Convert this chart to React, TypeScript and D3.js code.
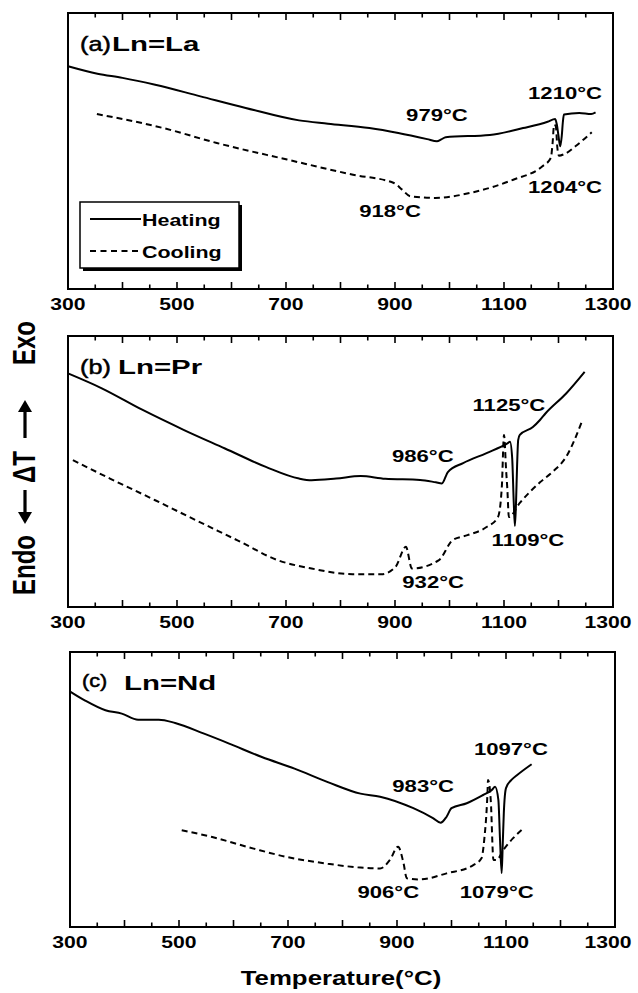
import React, { useEffect, useRef } from 'react';
import * as d3 from 'd3';

// x axis
const tickTemps = [300, 500, 700, 900, 1100, 1300];
const xTitle = 'Temperature(°C)';
// y title pieces, read from bottom to top
const yWords = ['Endo', '\u0394T', 'Exo'];

const panelTags = ['(a)', '(b)', '(c)'];
const panelNames = ['Ln=La', 'Ln=Pr', 'Ln=Nd'];
const legendNames = ['Heating', 'Cooling'];

// DTA traces, [temperature °C, signal in % of panel height]
const heatingLa = [
  [300, 80.7], [354, 78.0], [400, 76.5], [460, 74.0], [543, 69.8], [626, 65.6], [724, 61.1],
  [777, 59.9], [853, 58.3], [906, 56.5], [959, 54.3], [977, 53.5], [985, 54.2], [993, 55.0],
  [1074, 55.8], [1135, 58.3], [1180, 60.6], [1194, 61.6], [1197, 59.5], [1200, 55.5],
  [1203, 51.7], [1206, 55.5], [1208, 60.5], [1210, 63.2], [1238, 63.8], [1260, 63.4], [1268, 64.0],
];
const coolingLa = [
  [353, 63.4], [475, 58.3], [573, 52.9], [702, 46.9], [823, 41.4], [898, 38.4], [913, 36.0],
  [928, 33.6], [974, 33.0], [1042, 35.0], [1117, 39.6], [1170, 44.4], [1186, 47.5],
  [1189, 52.5], [1192, 59.5], [1195, 59.0], [1198, 51.0], [1201, 48.3], [1210, 48.8],
  [1231, 51.7], [1261, 56.8],
];

const heatingPr = [
  [300, 86.2], [362, 80.7], [437, 72.7], [513, 65.3], [588, 58.5], [663, 51.7], [724, 47.4],
  [747, 46.8], [792, 47.4], [837, 48.3], [882, 47.3], [946, 46.9], [975, 46.0], [986, 45.6],
  [997, 49.8], [1025, 53.1], [1068, 56.8], [1107, 60.5], [1111, 61.0], [1115, 55.0],
  [1118, 38.0], [1120, 29.9], [1122, 38.0], [1124, 52.0], [1126, 61.6], [1129, 63.5],
  [1153, 66.4], [1166, 69.0], [1176, 71.4], [1214, 78.8], [1248, 86.8],
];
const coolingPr = [
  [309, 54.2], [377, 47.4], [460, 39.4], [535, 32.0], [611, 24.6], [686, 17.2], [747, 14.2],
  [822, 12.1], [875, 12.1], [901, 14.8], [920, 22.2], [931, 14.2], [980, 17.2], [1006, 24.7],
  [1033, 26.5], [1068, 29.5], [1089, 33.2], [1096, 44.3], [1100, 63.5], [1104, 50.0],
  [1106, 44.0], [1109, 33.2], [1129, 38.4], [1166, 46.0], [1190, 50.0], [1214, 55.4], [1244, 69.0],
];

const heatingNd = [
  [301, 85.5], [327, 82.4], [365, 78.8], [395, 77.6], [425, 75.4], [463, 75.4], [493, 74.2],
  [546, 70.3], [592, 66.7], [652, 61.8], [712, 57.6], [773, 52.7], [833, 48.5], [869, 47.4],
  [930, 43.2], [966, 39.6], [980, 37.9], [991, 40.1], [1000, 43.2], [1028, 45.0], [1058, 48.0],
  [1074, 49.8], [1080, 51.0], [1086, 46.2], [1089, 32.0], [1092, 19.6], [1094, 30.0],
  [1096, 41.5], [1100, 50.5], [1110, 53.5], [1120, 55.2], [1147, 59.2],
];
const coolingNd = [
  [505, 35.2], [561, 32.7], [637, 28.5], [697, 25.5], [773, 23.0], [833, 21.6], [869, 21.3],
  [887, 24.4], [902, 29.2], [912, 23.2], [918, 17.7], [942, 17.3], [991, 19.5], [1040, 22.5],
  [1055, 25.0], [1060, 31.6], [1066, 48.6], [1067, 53.5], [1072, 46.2], [1077, 24.4],
  [1083, 24.4], [1095, 28.0], [1113, 32.3], [1132, 35.9],
];

// peak annotations: text, temperature of centre, signal of baseline
const notesLa = [
  { text: '979°C', t: 977, v: 60.9 },
  { text: '1210°C', t: 1212, v: 68.8 },
  { text: '918°C', t: 891, v: 26.1 },
  { text: '1204°C', t: 1212, v: 34.8 },
];
const notesPr = [
  { text: '1125°C', t: 1109, v: 72.3 },
  { text: '986°C', t: 951, v: 53.5 },
  { text: '1109°C', t: 1144, v: 22.5 },
  { text: '932°C', t: 970, v: 7.0 },
];
const notesNd = [
  { text: '1097°C', t: 1109, v: 62.5 },
  { text: '983°C', t: 948, v: 49.1 },
  { text: '906°C', t: 884, v: 10.5 },
  { text: '1079°C', t: 1083, v: 10.6 },
];

const panels = [
  { heat: heatingLa, cool: coolingLa, notes: notesLa, box: [68, 613, 13, 289], nameDx: 44, legend: true },
  { heat: heatingPr, cool: coolingPr, notes: notesPr, box: [68, 613, 336, 607], nameDx: 50, legend: false },
  { heat: heatingNd, cool: coolingNd, notes: notesNd, box: [70, 615, 652, 927], nameDx: 54, legend: false },
];

const FONT = "'Liberation Sans', Arial, Helvetica, sans-serif";
const WIDE = 1.3; // the scan is stretched sideways

function stretch(sel, factor) {
  sel.each(function () {
    const w = this.getComputedTextLength();
    d3.select(this).attr('textLength', w * factor).attr('lengthAdjust', 'spacingAndGlyphs');
  });
}

const App = () => {
  const svgRef = useRef(null);

  useEffect(() => {
    const svg = d3.select(svgRef.current);
    svg.selectAll('*').remove();

    panels.forEach((p, i) => {
      const [x0, x1, y0, y1] = p.box;
      const x = d3.scaleLinear().domain([300, 1300]).range([x0, x1]);
      const y = d3.scaleLinear().domain([0, 100]).range([y1, y0]);
      const g = svg.append('g');

      // ticks every 50 °C, inside, top and bottom
      d3.range(350, 1300, 50).forEach(t => {
        const len = t % 100 === 0 ? 7 : 4.5;
        g.append('line').attr('x1', x(t)).attr('x2', x(t)).attr('y1', y1).attr('y2', y1 - len)
          .attr('stroke', '#000').attr('stroke-width', 1.6);
        g.append('line').attr('x1', x(t)).attr('x2', x(t)).attr('y1', y0).attr('y2', y0 + len)
          .attr('stroke', '#000').attr('stroke-width', 1.6);
      });

      g.append('rect').attr('x', x0).attr('y', y0).attr('width', x1 - x0).attr('height', y1 - y0)
        .attr('fill', 'none').attr('stroke', '#000').attr('stroke-width', 2);

      g.selectAll('.tl').data(tickTemps).enter().append('text')
        .attr('x', d => Math.min(x(d), 608))
        .attr('y', y1 + 21)
        .attr('text-anchor', 'middle')
        .attr('font-family', FONT).attr('font-weight', 'bold').attr('font-size', 16)
        .text(d => d)
        .call(stretch, 1.32);

      const line = d3.line().x(d => x(d[0])).y(d => y(d[1])).curve(d3.curveMonotoneX);
      g.append('path').attr('d', line(p.heat)).attr('fill', 'none')
        .attr('stroke', '#000').attr('stroke-width', 2).attr('stroke-linejoin', 'round');
      g.append('path').attr('d', line(p.cool)).attr('fill', 'none')
        .attr('stroke', '#000').attr('stroke-width', 2).attr('stroke-dasharray', '6,4');

      // panel name
      g.append('text').attr('x', x0 + 12).attr('y', y0 + (i === 2 ? 35 : 38))
        .attr('font-family', FONT).attr('font-size', i === 2 ? 18 : 21)
        .attr('stroke', '#000').attr('stroke-width', 0.5)
        .text(panelTags[i]).call(stretch, 1.2);
      g.append('text').attr('x', x0 + p.nameDx).attr('y', y0 + 38)
        .attr('font-family', FONT).attr('font-weight', 'bold').attr('font-size', 21)
        .text(panelNames[i]).call(stretch, 1.4);

      g.selectAll('.note').data(p.notes).enter().append('text')
        .attr('x', d => x(d.t)).attr('y', d => y(d.v))
        .attr('text-anchor', 'middle')
        .attr('font-family', FONT).attr('font-weight', 'bold').attr('font-size', 17)
        .text(d => d.text).call(stretch, WIDE);

      if (p.legend) {
        const lx = x0 + 12, ly = y0 + 189, lw = 159, lh = 66;
        g.append('rect').attr('x', lx + 3).attr('y', ly + 3).attr('width', lw).attr('height', lh).attr('fill', '#000');
        g.append('rect').attr('x', lx).attr('y', ly).attr('width', lw).attr('height', lh)
          .attr('fill', '#fff').attr('stroke', '#000').attr('stroke-width', 1.5);
        legendNames.forEach((name, k) => {
          const yy = ly + 17 + k * 32;
          g.append('line').attr('x1', lx + 10).attr('x2', lx + 61).attr('y1', yy).attr('y2', yy)
            .attr('stroke', '#000').attr('stroke-width', 2)
            .attr('stroke-dasharray', k === 0 ? null : '6,4.5');
          g.append('text').attr('x', lx + 62).attr('y', yy + 7)
            .attr('font-family', FONT).attr('font-weight', 'bold').attr('font-size', 17)
            .text(name).call(stretch, 1.26);
        });
      }
    });

    svg.append('text').attr('x', 341).attr('y', 985).attr('text-anchor', 'middle')
      .attr('font-family', FONT).attr('font-weight', 'bold').attr('font-size', 20)
      .text(xTitle).call(stretch, 1.29);

    // y title: words and arrows drawn separately, glyphs widened sideways
    const yt = svg.append('g');
    const wordY = [565, 467, 343];
    yWords.forEach((w, k) => {
      yt.append('text')
        .attr('transform', `translate(35,${wordY[k]}) scale(1.3,1) rotate(-90)`)
        .attr('text-anchor', 'middle')
        .attr('font-family', FONT).attr('font-weight', 'bold').attr('font-size', 24)
        .text(w);
    });
    const arrow = (yTail, yHead) => {
      const dir = Math.sign(yHead - yTail);
      yt.append('line').attr('x1', 25).attr('x2', 25).attr('y1', yTail).attr('y2', yHead - dir * 9)
        .attr('stroke', '#000').attr('stroke-width', 3.2);
      yt.append('path')
        .attr('d', `M25,${yHead} L18,${yHead - dir * 12} L32,${yHead - dir * 12} Z`)
        .attr('fill', '#000');
    };
    arrow(438, 400);
    arrow(490, 524);
  }, []);

  return (
    <div style={{ position: 'absolute', left: 0, top: 0 }}>
      <svg ref={svgRef} width={638} height={993} style={{ display: 'block', background: '#fff' }} />
    </div>
  );
};

export default App;
